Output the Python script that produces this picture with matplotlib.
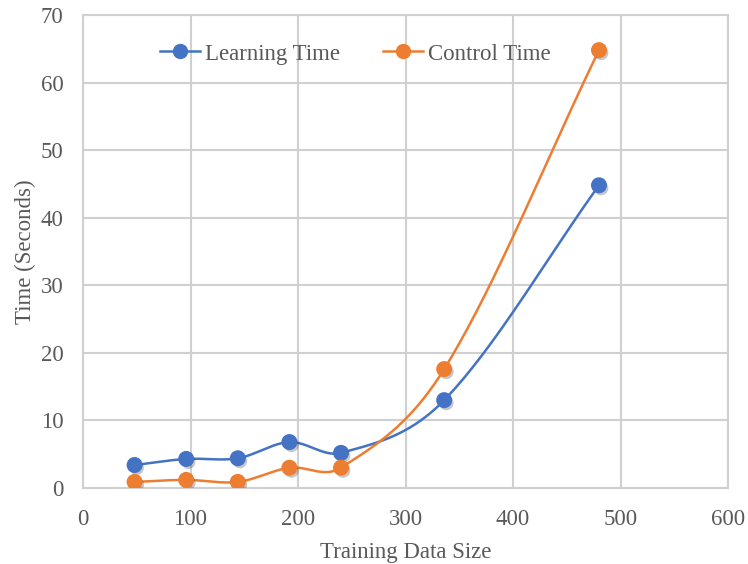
import numpy as np
import matplotlib
matplotlib.use("Agg")
import matplotlib.pyplot as plt
import matplotlib.patheffects as pe

# Training data sizes and measured times (seconds)
sizes = [48, 96, 144, 192, 240, 336, 480]
learning_time = [3.4, 4.3, 4.4, 6.8, 5.2, 13.0, 44.8]
control_time = [0.9, 1.2, 0.9, 3.0, 3.0, 17.6, 64.8]

x_ticks = [0, 100, 200, 300, 400, 500, 600]
y_ticks = [0, 10, 20, 30, 40, 50, 60, 70]

BLUE = "#4472C4"
ORANGE = "#ED7D31"
TEXT = "#595959"
GRID = "#D0D0D0"
FS = 16.5


def smooth(xs, ys, n=40):
    """Cubic Bezier smoothing; tangent handles scaled to one third of each segment's width."""
    p = np.column_stack([xs, ys]).astype(float)
    out = [p[0]]
    t = np.linspace(0, 1, n)[1:, None]
    for i in range(len(p) - 1):
        p0 = p[i - 1] if i > 0 else p[i]
        p3 = p[i + 2] if i + 2 < len(p) else p[i + 1]
        w = (p[i + 1, 0] - p[i, 0]) / 3.0
        d1 = p[i + 1] - p0
        d2 = p3 - p[i]
        c1 = p[i] + d1 * (w / d1[0])
        c2 = p[i + 1] - d2 * (w / d2[0])
        seg = ((1 - t) ** 3) * p[i] + 3 * ((1 - t) ** 2) * t * c1 \
            + 3 * (1 - t) * t ** 2 * c2 + t ** 3 * p[i + 1]
        out.extend(seg)
    out = np.array(out)
    return out[:, 0], out[:, 1]


plt.rcParams["font.family"] = ["Liberation Serif", "DejaVu Serif"]

fig = plt.figure(figsize=(7.48, 5.64), dpi=100)
ax = fig.add_axes([83 / 748, 76 / 564, 645 / 748, 473 / 564])

shadow = [pe.SimplePatchShadow(offset=(1.5, -2), shadow_rgbFace="black", alpha=0.22), pe.Normal()]

for ys, color, label in [(learning_time, BLUE, "Learning Time"),
                         (control_time, ORANGE, "Control Time")]:
    sx, sy = smooth(sizes, ys)
    ax.plot(sx, sy, color=color, lw=1.8, zorder=3)
    ax.plot(sizes, ys, linestyle="none", marker="o", ms=10.5, color=color,
            markeredgecolor=color, zorder=4, path_effects=shadow)
    ax.plot([], [], color=color, lw=1.8, marker="o", ms=10, label=label)

ax.set_xlim(0, 600)
ax.set_ylim(0, 70)
ax.set_xticks(x_ticks)
ax.set_yticks(y_ticks)
ax.grid(True, color=GRID, lw=1.5)
ax.set_axisbelow(True)
for s in ax.spines.values():
    s.set_color(GRID)
    s.set_linewidth(1.5)
ax.tick_params(axis="y", length=0, colors=TEXT, labelsize=FS, pad=14)
ax.tick_params(axis="x", length=0, colors=TEXT, labelsize=FS, pad=15)

ax.set_xlabel("Training Data Size", color=TEXT, fontsize=FS, labelpad=9)
ax.set_ylabel("Time (Seconds)", color=TEXT, fontsize=FS, labelpad=3)

leg = ax.legend(loc="center left", bbox_to_anchor=(160 / 748, 1 - 54 / 564),
                bbox_transform=fig.transFigure, ncol=2, frameon=False,
                fontsize=FS, handlelength=1.75, handletextpad=0.22,
                columnspacing=1.85, borderpad=0, borderaxespad=0)
for t in leg.get_texts():
    t.set_color(TEXT)

fig.savefig("out.png", dpi=100)
